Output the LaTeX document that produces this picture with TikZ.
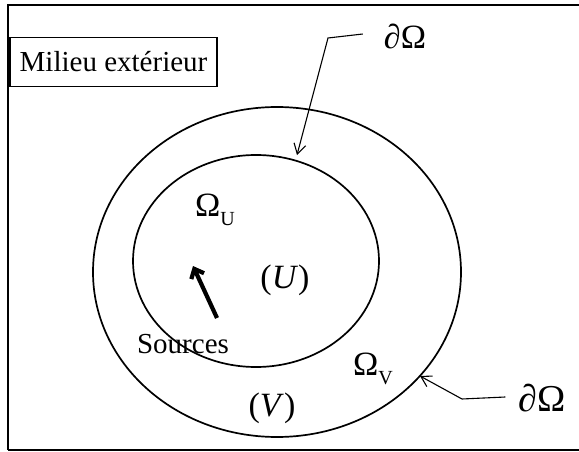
\documentclass[tikz,border=0pt]{standalone}
\usepackage{fontspec}
\setmainfont{Liberation Serif}
\usepackage{tikz}
\usetikzlibrary{
	arrows.meta,
	positioning
}
\tikzset{
	ring/.style={line width=1.7pt},
	thinarrow/.style={line width=1.1pt, -{Straight Barb[length=10pt,width=12pt]}},
	boldarrow/.style={line width=4.2pt, -{Straight Barb[length=8pt,width=14pt]}},
	txt/.style={inner sep=0pt, font=\fontsize{29}{32}\selectfont},
	bigtxt/.style={inner sep=0pt, font=\fontsize{34}{36}\selectfont}
}
\newcommand{\sbs}[1]{\raisebox{-0.28em}{\fontsize{20}{20}\selectfont #1}}

\begin{document}
\begin{tikzpicture}[x=1pt, y=-1pt]
			\useasboundingbox (0,0) rectangle (579,452);
			% frame
			\draw[line width=1.5pt] (579,5) -- (8,5) -- (8,450);
			\draw[line width=2.5pt] (8,450) -- (579,450);
			\node[txt, draw, line width=1.6pt, fill=white, minimum width=207pt, minimum height=49pt] (milieu) at (113.5,62) {Milieu extérieur};
			% domains
			\draw[ring] (277,272) ellipse [x radius=184pt, y radius=165pt];
			\draw[ring] (256,261) ellipse [x radius=123pt, y radius=106pt];
			\node[bigtxt] (omu) at (215,210) {Ω\sbs{U}};
			\node[bigtxt] (u) at (285,280) {(\textit{U})};
			\node[bigtxt] (omv) at (373,369) {Ω\sbs{V}};
			\node[bigtxt] (v) at (272,408) {(\textit{V})};
			\node[txt] (src) at (183,344) {Sources};
			\coordinate (srctail) at (217,318);
			\coordinate (srctip) at (193,266);
			\draw[boldarrow] (srctail) -- (srctip);
			% boundaries
			\node[bigtxt] (bord1) at (405,36) {∂Ω};
			\coordinate (k1) at (328,38);
			\coordinate (t1) at (297,155);
			\draw[thinarrow] (bord1.west) ++(-21pt,2pt) -- (k1) -- (t1);
			\node[bigtxt, font=\fontsize{38}{40}\selectfont] (bord2) at (542,398) {∂Ω};
			\coordinate (k2) at (462,399);
			\coordinate (t2) at (420,376);
			\draw[thinarrow] (bord2.west) ++(-13pt,1pt) -- (k2) -- (t2);
		\end{tikzpicture}
\end{document}
